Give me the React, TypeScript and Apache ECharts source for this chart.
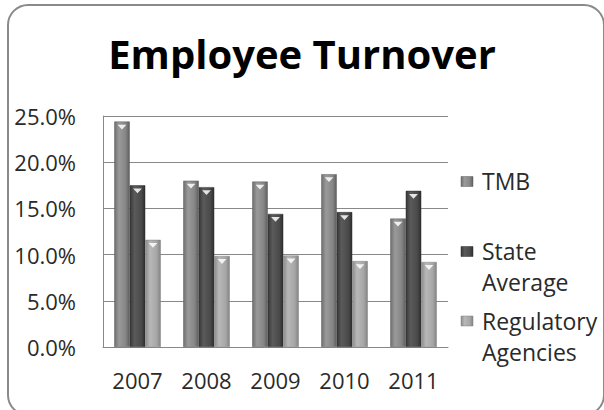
import React, { useEffect, useRef } from "react";
import * as echarts from "echarts";

const years = ["2007", "2008", "2009", "2010", "2011"];
const tmb = [24.4, 18.0, 17.9, 18.7, 13.9];
const stateAverage = [17.5, 17.3, 14.4, 14.6, 16.9];
const regulatory = [11.6, 9.85, 9.9, 9.3, 9.2];
const seriesNames = ["TMB", "State Average", "Regulatory Agencies"];
const legendLabels = ["TMB", "State\nAverage", "Regulatory\nAgencies"];
const yTicks = { min: 0, max: 25, interval: 5 };

const FONT = "'Open Sans', 'Noto Sans', sans-serif";
const baseColors = [
  ["#6e6e6e", "#9a9a9a", "#858585", "#5e5e5e"],
  ["#383838", "#5a5a5a", "#4a4a4a", "#2f2f2f"],
  ["#8c8c8c", "#b8b8b8", "#a6a6a6", "#838383"],
];

function grad(c: string[]) {
  return new echarts.graphic.LinearGradient(0, 0, 1, 0, [
    { offset: 0, color: c[0] },
    { offset: 0.3, color: c[1] },
    { offset: 0.75, color: c[2] },
    { offset: 1, color: c[3] },
  ]);
}

export default function App() {
  const ref = useRef<HTMLDivElement>(null);
  useEffect(() => {
    if (!ref.current) return;
    const chart = echarts.init(ref.current, null, { renderer: "svg" });
    const data = [tmb, stateAverage, regulatory];
    const barW = 15.5;
    const offsets = [-barW, 0, barW];
    const bars: any[] = data.map((d, i) => ({
      name: seriesNames[i],
      type: "bar",
      data: d,
      barWidth: barW,
      barGap: "0%",
      itemStyle: { color: grad(baseColors[i]), borderColor: baseColors[i][3], borderWidth: 0.5 },
    }));
    const tops: any[] = data.map((d, i) => ({
      name: seriesNames[i] + " top",
      type: "pictorialBar",
      data: d,
      symbol: "triangle",
      symbolRotate: 180,
      symbolSize: [9, 5],
      symbolPosition: "end",
      symbolOffset: [offsets[i], 3],
      itemStyle: { color: "rgba(255,255,255,0.85)" },
      z: 5,
      silent: true,
    }));
    const legendY = [181.5, 251.5, 321];
    const legendGraphics: any[] = [];
    legendY.forEach((y, i) => {
      legendGraphics.push({
        type: "rect",
        shape: { x: 461, y: y - 5, width: 12, height: 10 },
        style: { fill: grad(baseColors[i]), stroke: baseColors[i][3], lineWidth: 0.5 },
      });
      legendGraphics.push({
        type: "text",
        x: 482,
        y: y - 16,
        style: {
          text: legendLabels[i],
          font: `23px ${FONT}`,
          fill: "#2a2a2a",
          lineHeight: 31,
          verticalAlign: "top",
        },
      });
    });
    chart.setOption({
      animation: false,
      backgroundColor: "#ffffff",
      title: {
        text: "Employee Turnover",
        left: "center",
        top: 28,
        padding: [5, 0, 5, 18],
        textStyle: { fontFamily: FONT, fontWeight: "bold", fontSize: 40, color: "#000" },
      },
      grid: { left: 103, right: 156, top: 116, bottom: 63, containLabel: false },
      xAxis: {
        type: "category",
        data: years,
        axisLine: { show: true, lineStyle: { color: "#888", width: 1 } },
        axisTick: { show: false },
        axisLabel: { fontFamily: FONT, fontSize: 22, color: "#2a2a2a", margin: 22 },
      },
      yAxis: {
        type: "value",
        min: yTicks.min,
        max: yTicks.max,
        interval: yTicks.interval,
        axisLine: { show: true, lineStyle: { color: "#888", width: 1 } },
        axisTick: { show: false },
        splitLine: { lineStyle: { color: "#888", width: 1 } },
        axisLabel: {
          fontFamily: FONT,
          fontSize: 22,
          color: "#2a2a2a",
          margin: 27,
          formatter: (v: number) => v.toFixed(1) + "%",
        },
      },
      series: [...bars, ...tops],
      graphic: [
        {
          type: "rect",
          shape: { x: 8, y: 5, width: 596, height: 410, r: 20 },
          style: { fill: "none", stroke: "#8a8a8a", lineWidth: 2 },
          silent: true,
        },
        ...legendGraphics,
      ],
    });
    return () => chart.dispose();
  }, []);
  return (
    <div
      ref={ref}
      style={{ position: "fixed", left: 0, top: 0, width: 604, height: 410 }}
    />
  );
}
